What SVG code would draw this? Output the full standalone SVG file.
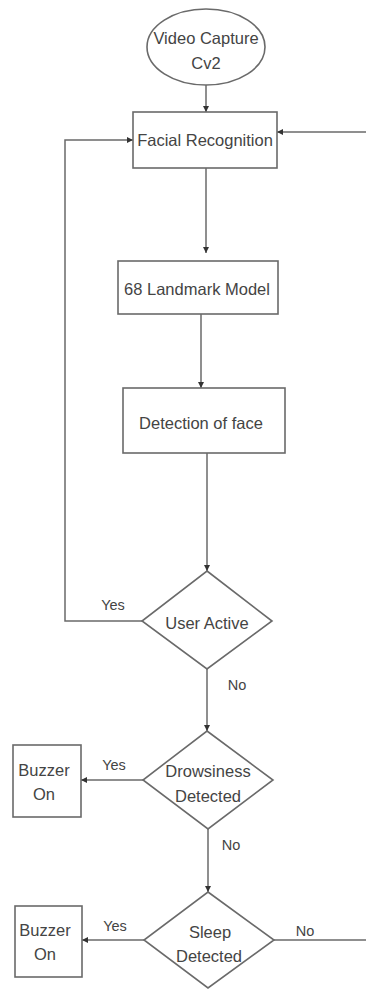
<svg xmlns="http://www.w3.org/2000/svg" width="366" height="990" viewBox="0 0 366 990">
<style>
.shape{fill:#fff;stroke:#6a6a6a;stroke-width:1.6}
.line{fill:none;stroke:#6a6a6a;stroke-width:1.5}
text{font-family:"Liberation Sans",Arial,sans-serif;fill:#444;text-anchor:middle}
.t{font-size:16.5px}
.lbl{font-size:14.5px}
</style>
<defs>
<marker id="arr" viewBox="0 0 10 10" refX="10" refY="5" markerWidth="6" markerHeight="6" orient="auto" markerUnits="userSpaceOnUse">
<path d="M0,0 L10,5 L0,10 z" fill="#333"/>
</marker>
</defs>
<rect width="366" height="990" fill="#fff"/>
<g id="connectors">
<path class="line" d="M206,85 V112" marker-end="url(#arr)"/>
<path class="line" d="M206,168 V253" marker-end="url(#arr)"/>
<path class="line" d="M201,314 V388" marker-end="url(#arr)"/>
<path class="line" d="M207,453 V571" marker-end="url(#arr)"/>
<path class="line" d="M142,621 H65 V140 H133" marker-end="url(#arr)"/>
<path class="line" d="M366,132 H277" marker-end="url(#arr)"/>
<path class="line" d="M207,669 V731" marker-end="url(#arr)"/>
<path class="line" d="M143,780 H81" marker-end="url(#arr)"/>
<path class="line" d="M208,829 V892" marker-end="url(#arr)"/>
<path class="line" d="M144,940 H82" marker-end="url(#arr)"/>
<path class="line" d="M274,940 H366"/>
<text class="lbl" x="113" y="610">Yes</text>
<text class="lbl" x="237" y="690">No</text>
<text class="lbl" x="114" y="770">Yes</text>
<text class="lbl" x="231" y="850">No</text>
<text class="lbl" x="115" y="931">Yes</text>
<text class="lbl" x="305" y="936">No</text>
</g>
<g id="video-capture">
<ellipse class="shape" cx="206" cy="47" rx="59" ry="38"/>
<text class="t" x="206" y="44">Video Capture</text>
<text class="t" x="206" y="69">Cv2</text>
</g>
<g id="facial-recognition">
<rect class="shape" x="133" y="112" width="144" height="56"/>
<text class="t" x="205" y="146">Facial Recognition</text>
</g>
<g id="landmark-model">
<rect class="shape" x="118" y="261" width="160" height="53"/>
<text class="t" x="197" y="295">68 Landmark Model</text>
</g>
<g id="detection-face">
<rect class="shape" x="123" y="388" width="162" height="65"/>
<text class="t" x="201" y="429">Detection of face</text>
</g>
<g id="user-active">
<path class="shape" d="M207,571 L272,621 L207,669 L142,621 Z"/>
<text class="t" x="207" y="629">User Active</text>
</g>
<g id="drowsiness">
<path class="shape" d="M207,731 L273,780 L208,829 L143,780 Z"/>
<text class="t" x="208" y="777">Drowsiness</text>
<text class="t" x="208" y="802">Detected</text>
</g>
<g id="buzzer1">
<rect class="shape" x="13" y="745" width="68" height="72"/>
<text class="t" x="44" y="776">Buzzer</text>
<text class="t" x="44" y="800">On</text>
</g>
<g id="sleep">
<path class="shape" d="M208,892 L274,940 L208,988 L144,940 Z"/>
<text class="t" x="210" y="938">Sleep</text>
<text class="t" x="209" y="962">Detected</text>
</g>
<g id="buzzer2">
<rect class="shape" x="15" y="906" width="67" height="71"/>
<text class="t" x="45" y="936">Buzzer</text>
<text class="t" x="45" y="960">On</text>
</g>
</svg>
